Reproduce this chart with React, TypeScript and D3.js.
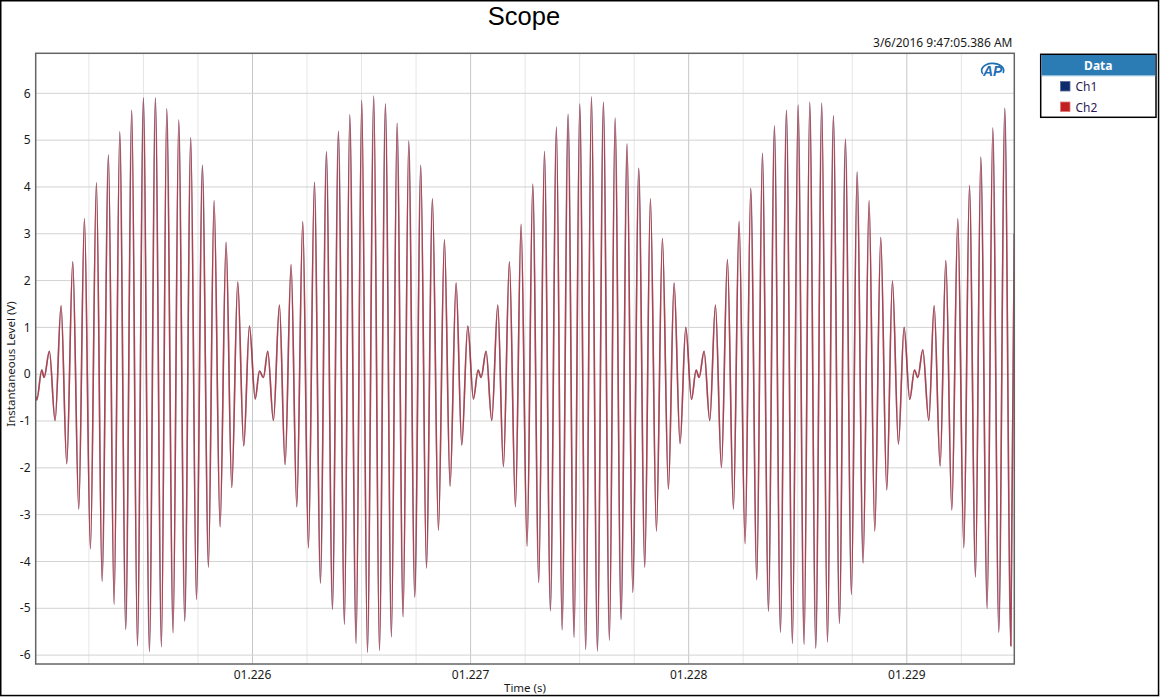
import React from 'react';
import * as d3 from 'd3';

// Time offsets are microseconds after T0 (seconds); values are volts, read at each local extremum.
const T0 = 1.225;

const beat1Us = [6, 10.9, 33.8, 44.5, 68.9, 94.9, 122.4, 148.4, 175.9, 203.4, 229.4, 256.9, 284.4, 310.4, 339.5, 365.4, 391.4, 418.9, 446.4, 472.4, 499.9, 527.4, 554.9, 582.5, 606.9, 635.9, 661.9, 689.4, 716.9, 742.9, 770.4, 797.9, 823.9, 851.4, 878.9, 904.9, 932.4, 959.9, 985.9];
const beat1V = [-0.47, -0.55, 0.09, -0.07, 0.49, -0.99, 1.46, -1.91, 2.4, -2.88, 3.32, -3.73, 4.09, -4.42, 4.68, -4.91, 5.18, -5.45, 5.64, -5.8, 5.9, -5.92, 5.9, -5.82, 5.67, -5.52, 5.43, -5.27, 5.05, -4.81, 4.46, -4.12, 3.71, -3.26, 2.82, -2.42, 1.97, -1.53, 1.03];

const beat2Us = [1012.5, 1031.8, 1050.1, 1070, 1096, 1123.5, 1149.5, 1177, 1203, 1230.5, 1256.5, 1284, 1311.5, 1339, 1366.5, 1394, 1421.5, 1446, 1475, 1501, 1527, 1556, 1582, 1609.5, 1637, 1663, 1690.5, 1716.5, 1744, 1771.5, 1797.5, 1825, 1852.5, 1880, 1906, 1933.5, 1959.5, 1987];
const beat2V = [-0.53, 0.07, -0.07, 0.49, -0.99, 1.48, -1.93, 2.34, -2.83, 3.26, -3.71, 4.1, -4.46, 4.75, -5.02, 5.19, -5.34, 5.54, -5.75, 5.85, -5.94, 5.94, -5.9, 5.77, -5.61, 5.36, -5.18, 4.98, -4.76, 4.46, -4.14, 3.75, -3.33, 2.87, -2.39, 1.95, -1.51, 1.03];

const beat3Us = [2013, 2034.4, 2048.1, 2071.1, 2097, 2124.6, 2150.5, 2178, 2205.6, 2231.5, 2259, 2285, 2312.5, 2338.5, 2366, 2393.5, 2419.5, 2447, 2474.5, 2500.5, 2528, 2554, 2581.5, 2609, 2636.5, 2662.5, 2690, 2717.5, 2743.5, 2771, 2798.5, 2824.5, 2852, 2879.5, 2907, 2933, 2960.5, 2986.5];
const beat3V = [-0.53, 0.09, -0.07, 0.49, -0.99, 1.48, -1.97, 2.4, -2.83, 3.2, -3.67, 4.06, -4.45, 4.76, -5.05, 5.28, -5.46, 5.55, -5.62, 5.77, -5.88, 5.92, -5.91, 5.81, -5.68, 5.47, -5.24, 4.92, -4.66, 4.4, -4.12, 3.75, -3.35, 2.9, -2.45, 1.95, -1.48, 1.0];

const beat4Us = [3013, 3033.9, 3047.7, 3070.6, 3096.6, 3122.6, 3150.1, 3177.6, 3205.1, 3231.1, 3258.6, 3284.6, 3312.1, 3338, 3365.6, 3393.1, 3420.6, 3448.1, 3475.6, 3501.6, 3529.1, 3555.1, 3582.6, 3610.1, 3636.1, 3663.6, 3691.1, 3718.6, 3746.1, 3772.1, 3799.6, 3827.1, 3853.1, 3880.6, 3908.1, 3934.1, 3961.6, 3987.6];
const beat4V = [-0.54, 0.09, -0.07, 0.49, -0.99, 1.48, -1.99, 2.45, -2.88, 3.26, -3.62, 3.97, -4.39, 4.72, -5.06, 5.3, -5.51, 5.64, -5.75, 5.75, -5.77, 5.81, -5.85, 5.79, -5.72, 5.52, -5.32, 5.02, -4.7, 4.32, -4.03, 3.71, -3.35, 2.92, -2.47, 1.99, -1.49, 1.0];

const beat5Us = [4013.6, 4035.2, 4050.5, 4073.4, 4100.9, 4125.4, 4152.9, 4178.9, 4206.4, 4233.9, 4261.4, 4287.4, 4314.9, 4339.3, 4368.4, 4394.3, 4421.9, 4449.4, 4476.9, 4493];
const beat5V = [-0.54, 0.09, -0.07, 0.52, -0.99, 1.46, -1.96, 2.43, -2.9, 3.32, -3.71, 4.03, -4.33, 4.64, -5.0, 5.26, -5.51, 5.68, -5.8, 3.0];

const seriesNames = ['Ch1', 'Ch2'];
const seriesColors = ['#0d2c6e', '#c0201f'];

const xTickValues = [1.226, 1.227, 1.228, 1.229];
const xTickLabels = ['01.226', '01.227', '01.228', '01.229'];
const yTickValues = [6, 5, 4, 3, 2, 1, 0, -1, -2, -3, -4, -5, -6];
const xDomain: [number, number] = [1.225006, 1.2294929];
const yDomain: [number, number] = [-6.19, 6.855];

const titleText = 'Scope';
const timestampText = '3/6/2016 9:47:05.386 AM';
const xAxisTitle = 'Time (s)';
const yAxisTitle = 'Instantaneous Level (V)';
const legendTitle = 'Data';

type Pt = { t: number; v: number };
const beatsUs = [beat1Us, beat2Us, beat3Us, beat4Us, beat5Us];
const beatsV = [beat1V, beat2V, beat3V, beat4V, beat5V];
const ch1: Pt[] = beatsUs.flatMap((us, b) => us.map((u, i) => ({ t: T0 + u * 1e-6, v: beatsV[b][i] })));
const ch2: Pt[] = ch1.map((p) => ({ ...p }));

const W = 1161;
const H = 697;
const PL = 35.7;
const PR = 1014.3;
const PT = 53.3;
const PB = 664;

const UI = "'Segoe UI', 'Noto Sans', 'Open Sans', sans-serif";

export default function App() {
  const x = d3.scaleLinear().domain(xDomain).range([PL, PR]);
  const y = d3.scaleLinear().domain(yDomain).range([PB, PT]);
  const line = d3
    .line<Pt>()
    .x((d) => x(d.t))
    .y((d) => y(d.v))
    .curve(d3.curveMonotoneX);

  const minor = d3
    .range(0, 18)
    .map((i) => 1.22525 + i * 0.00025)
    .filter((t) => t > xDomain[0] && t < xDomain[1] && !xTickValues.some((m) => Math.abs(m - t) < 1e-7));

  return (
    <svg
      width={W}
      height={H}
      style={{ position: 'absolute', left: 0, top: 0, background: '#fff' }}
      xmlns="http://www.w3.org/2000/svg"
    >
      <rect x={0} y={0} width={W} height={H} fill="#fff" />
      <rect x={0.75} y={0.75} width={1157.8} height={694.8} fill="none" stroke="#000" strokeWidth={1.5} />

      <defs>
        <clipPath id="plotClip">
          <rect x={PL} y={PT} width={PR - PL} height={PB - PT} />
        </clipPath>
      </defs>

      {/* grid */}
      {minor.map((t) => (
        <line key={'mn' + t} x1={x(t)} x2={x(t)} y1={PT} y2={PB} stroke="#e6e6e6" strokeWidth={1} />
      ))}
      {xTickValues.map((t) => (
        <line key={'mj' + t} x1={x(t)} x2={x(t)} y1={PT} y2={PB} stroke="#c6c6c6" strokeWidth={1} />
      ))}
      {yTickValues.map((v) => (
        <line key={'h' + v} x1={PL} x2={PR} y1={y(v)} y2={y(v)} stroke="#d2d2d2" strokeWidth={1} />
      ))}

      {/* series: Ch2 overlays Ch1 */}
      <g clipPath="url(#plotClip)">
        <path d={line(ch1) || ''} fill="none" stroke={seriesColors[0]} strokeOpacity={0.5} strokeWidth={1.6} />
        <path d={line(ch2) || ''} fill="none" stroke={seriesColors[1]} strokeOpacity={0.7} strokeWidth={1.5} />
      </g>

      <rect x={PL} y={PT} width={PR - PL} height={PB - PT} fill="none" stroke="#646464" strokeWidth={1.5} />

      {/* y ticks */}
      {yTickValues.map((v) => (
        <text key={'yl' + v} x={30.5} y={y(v)} dy="0.35em" textAnchor="end" fontFamily={UI} fontSize={12} fill="#1a1a1a">
          {v}
        </text>
      ))}
      {/* x ticks */}
      {xTickValues.map((t, i) => (
        <text key={'xl' + t} x={x(t)} y={679} textAnchor="middle" fontFamily={UI} fontSize={12} fill="#1a1a1a">
          {xTickLabels[i]}
        </text>
      ))}

      <text x={(PL + PR) / 2} y={691.5} textAnchor="middle" fontFamily={UI} fontSize={11.5} fill="#1a1a1a">
        {xAxisTitle}
      </text>
      <text
        transform={`translate(15,364) rotate(-90)`}
        textAnchor="middle"
        fontFamily={UI}
        fontSize={11.5}
        fill="#1a1a1a"
      >
        {yAxisTitle}
      </text>

      <text x={524} y={24.5} textAnchor="middle" fontFamily="'Liberation Sans', Arial, sans-serif" fontSize={25.5} fill="#000">
        {titleText}
      </text>
      <text x={1012.5} y={46.5} textAnchor="end" fontFamily={UI} fontSize={12} fill="#1a1a1a">
        {timestampText}
      </text>

      {/* AP logo */}
      <g>
        <path
          d="M 983 74 A 11 7.2 0 1 1 1003 73"
          fill="none"
          stroke="#1f6fb5"
          strokeWidth={1.6}
        />
        <text x={983} y={76} fontFamily="'Liberation Sans', Arial, sans-serif" fontStyle="italic" fontWeight="bold" fontSize={14} fill="#1f6fb5">
          AP
        </text>
      </g>

      {/* legend */}
      <g>
        <rect x={1040.7} y={54.3} width={115.3} height={63} fill="#fff" stroke="#000" strokeWidth={1.5} />
        <rect x={1041.5} y={55} width={113.8} height={20.5} fill="#2b7bb5" />
        <line x1={1041.5} x2={1155.3} y1={75.8} y2={75.8} stroke="#8fc0e0" strokeWidth={1} />
        <text x={1098.3} y={69.5} textAnchor="middle" fontFamily={UI} fontWeight="bold" fontSize={12} fill="#fff">
          {legendTitle}
        </text>
        {seriesNames.map((n, i) => (
          <g key={n}>
            <rect
              x={1060.5}
              y={81.5 + i * 20.5}
              width={9.5}
              height={9.5}
              fill={seriesColors[i]}
              stroke={i === 0 ? '#5a6a9a' : '#e07878'}
              strokeWidth={0.8}
            />
            <text x={1075.5} y={91 + i * 20.5} fontFamily={UI} fontSize={12} fill="#2e1a55">
              {n}
            </text>
          </g>
        ))}
      </g>
    </svg>
  );
}
